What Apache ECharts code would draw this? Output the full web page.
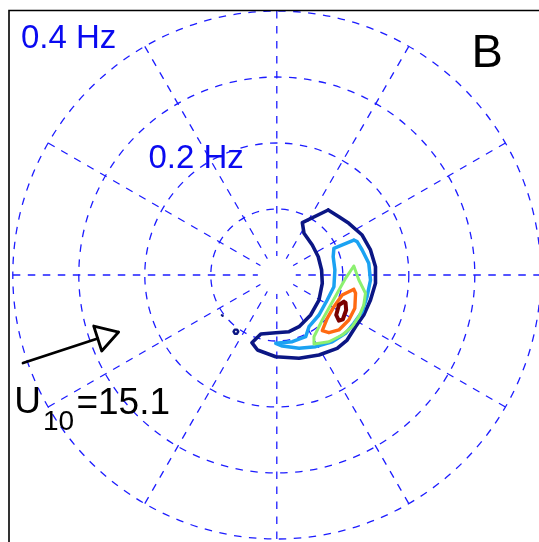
<!DOCTYPE html>
<html><head><meta charset="utf-8">
<script src="https://cdn.jsdelivr.net/npm/echarts@6/dist/echarts.min.js"></script>
<style>html,body{margin:0;padding:0;background:#fff}#c{width:539px;height:542px}</style>
</head><body><div id="c"></div>
<script>
// Frequency rings (Hz) and direction spokes (deg)
const ringTicks = [0.1, 0.2, 0.3, 0.4];
const spokeStep = 30;
// Contours in (fx, fy) frequency components, Hz
const contourLevel1 = [[0.0795,0.0985],[0.0402,0.0792],[0.0427,0.0632],[0.0553,0.0455],[0.0644,0.0277],[0.0695,0.0076],[0.0705,-0.0126],[0.0655,-0.0379],[0.0529,-0.0606],[0.0352,-0.0783],[0.0200,-0.0859],[-0.0002,-0.0874],[-0.0229,-0.0894],[-0.0365,-0.1026],[-0.0280,-0.1136],[-0.0002,-0.1238],[0.0352,-0.1262],[0.0655,-0.1212],[0.0932,-0.1111],[0.1083,-0.0985],[0.1211,-0.0783],[0.1336,-0.0606],[0.1438,-0.0379],[0.1514,-0.0126],[0.1514,0.0126],[0.1438,0.0379],[0.1311,0.0606],[0.1109,0.0783],[0.0958,0.0883]];
const contourLevel1b = [[-0.0572,-0.0859],[-0.0590,-0.0828],[-0.0626,-0.0828],[-0.0644,-0.0859],[-0.0626,-0.0890],[-0.0590,-0.0890]];
const contourLevel1c = [[-0.0823,-0.0608],[-0.0808,-0.0620]];
const contourLevel2 = [[0.1185,0.0530],[0.0882,0.0405],[0.0871,0.0277],[0.0897,0.0076],[0.0882,-0.0177],[0.0780,-0.0379],[0.0655,-0.0606],[0.0503,-0.0783],[0.0453,-0.0935],[0.0250,-0.1011],[-0.0002,-0.1035],[0.0098,-0.1076],[0.0352,-0.1111],[0.0605,-0.1086],[0.0856,-0.1011],[0.1059,-0.0883],[0.1185,-0.0732],[0.1311,-0.0556],[0.1386,-0.0329],[0.1438,-0.0076],[0.1412,0.0177],[0.1311,0.0379],[0.1235,0.0505]];
const contourLevel3 = [[0.1185,0.0136],[0.1059,-0.0050],[0.0932,-0.0277],[0.0832,-0.0455],[0.0705,-0.0682],[0.0579,-0.0935],[0.0579,-0.1045],[0.0806,-0.1011],[0.1008,-0.0909],[0.1159,-0.0783],[0.1261,-0.0632],[0.1336,-0.0455],[0.1362,-0.0277],[0.1261,-0.0076]];
const contourLevel4 = [[0.1185,-0.0217],[0.1008,-0.0303],[0.0882,-0.0480],[0.0780,-0.0656],[0.0705,-0.0844],[0.0806,-0.0874],[0.0958,-0.0833],[0.1109,-0.0682],[0.1200,-0.0505],[0.1211,-0.0277]];
const contourLevel5 = [[0.1033,-0.0405],[0.0958,-0.0455],[0.0917,-0.0606],[0.0958,-0.0692],[0.1018,-0.0671],[0.1068,-0.0530],[0.1059,-0.0420]];
// Wind arrow (U10) in the same frequency frame
const windShaft = [[-0.3845,-0.1333],[-0.2709,-0.0962]];
const windHead = [[-0.2391,-0.0864],[-0.2770,-0.0773],[-0.2648,-0.1152]];
const labels = {inner: '0.2 Hz', outer: '0.4 Hz', panel: 'B', wind: '15.1'};

const closeLoop = a => a.concat([a[0]]);
const gridBlue = '#1c1cff';
const dash = [7.5, 7.5];

const chart = echarts.init(document.getElementById('c'), null, {renderer: 'canvas'});
const cx = 276.8, cy = 275, R = 264;
function contour(data, color, width, closed) {
  return {type: 'line', xAxisIndex: 0, yAxisIndex: 0, data: closed === false ? data : closeLoop(data),
    symbol: 'none', silent: true, z: 5, animation: false,
    lineStyle: {color: color, width: width, join: 'round', cap: 'round'}};
}
chart.setOption({
  animation: false,
  polar: {center: [cx, cy], radius: R},
  angleAxis: {type: 'value', min: 0, max: 360, interval: spokeStep, startAngle: 90,
    axisLine: {show: false}, axisTick: {show: false}, axisLabel: {show: false},
    splitLine: {show: true, lineStyle: {color: gridBlue, width: 1.3, type: dash}}},
  radiusAxis: {type: 'value', min: 0, max: ringTicks[ringTicks.length - 1], interval: ringTicks[0],
    axisLine: {show: false}, axisTick: {show: false}, axisLabel: {show: false},
    splitLine: {show: true, lineStyle: {color: gridBlue, width: 1.3, type: dash}}},
  grid: {left: cx - R, top: cy - R, width: 2 * R, height: 2 * R},
  xAxis: {type: 'value', min: -0.4, max: 0.4, show: false},
  yAxis: {type: 'value', min: -0.4, max: 0.4, show: false},
  series: [
    contour(contourLevel1, '#0b1684', 3.6),
    contour(contourLevel1b, '#0b1684', 2.4),
    contour(contourLevel1c, '#0b1684', 2.2, false),
    contour(contourLevel2, '#1ba2f2', 3.5),
    contour(contourLevel3, '#8cf070', 3),
    contour(contourLevel4, '#ff6a12', 3.4),
    contour(contourLevel5, '#7a0000', 4),
    contour(windShaft, '#000000', 2.8, false),
    contour(windHead, '#000000', 2.8)
  ],
  graphic: [
    {type: 'circle', silent: true, z: 3, shape: {cx: cx, cy: cy, r: 19}, style: {fill: '#fff', stroke: 'none'}},
    {type: 'rect', silent: true, z: 10, shape: {x: 9, y: 10.5, width: 700, height: 700},
      style: {fill: 'none', stroke: '#000', lineWidth: 1.6}},
    {type: 'text', z: 10, x: 21, y: 38.5, style: {text: labels.outer, font: '33px "Liberation Sans", Arial, sans-serif', fill: '#0a0af0', verticalAlign: 'middle', align: 'left'}},
    {type: 'text', z: 10, x: 148.5, y: 158.5, style: {text: labels.inner, font: '33px "Liberation Sans", Arial, sans-serif', fill: '#0a0af0', verticalAlign: 'middle', align: 'left'}},
    {type: 'text', z: 10, x: 471.5, y: 54.5, style: {text: labels.panel, font: '47px "Liberation Sans", Arial, sans-serif', fill: '#000', verticalAlign: 'middle', align: 'left'}},
    {type: 'text', z: 10, x: 14.3, y: 403, style: {text: 'U', font: '37px "Liberation Sans", Arial, sans-serif', fill: '#000', verticalAlign: 'middle', align: 'left'}},
    {type: 'text', z: 10, x: 43, y: 422, style: {text: '10', font: '28px "Liberation Sans", Arial, sans-serif', fill: '#000', verticalAlign: 'middle', align: 'left'}},
    {type: 'text', z: 10, x: 76.4, y: 403.5, style: {text: '=' + labels.wind, font: '37px "Liberation Sans", Arial, sans-serif', fill: '#000', verticalAlign: 'middle', align: 'left'}}
  ]
});
</script></body></html>
